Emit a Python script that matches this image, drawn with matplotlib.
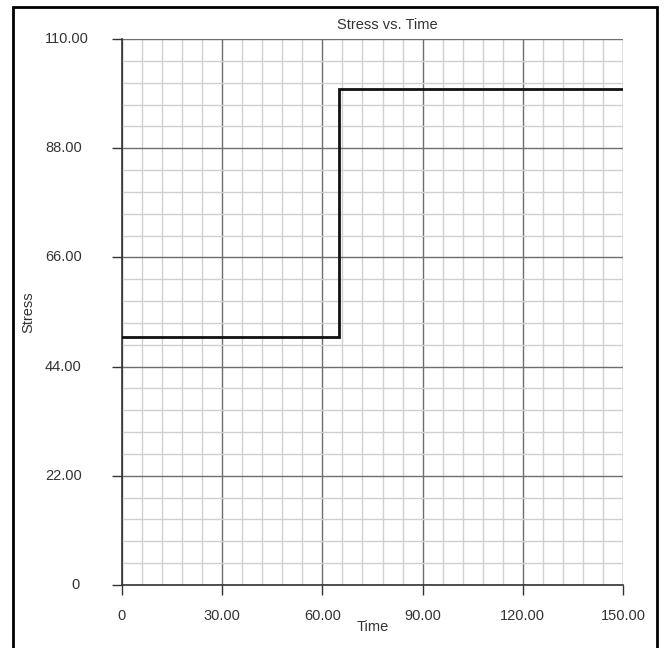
import matplotlib
matplotlib.use("Agg")
import matplotlib.pyplot as plt
from matplotlib.ticker import MultipleLocator, FixedLocator
from matplotlib.patches import Rectangle

plt.rcParams['font.family'] = ['Liberation Sans', 'DejaVu Sans']

time = [0, 65, 65, 150]
stress = [50, 50, 100, 100]
x_ticks = [0, 30, 60, 90, 120, 150]
x_labels = ["0", "30.00", "60.00", "90.00", "120.00", "150.00"]
y_ticks = [0, 22, 44, 66, 88, 110]
y_labels = ["0", "22.00", "44.00", "66.00", "88.00", "110.00"]

W, H = 670, 648
FS = 10.5
TC = '#333333'
fig = plt.figure(figsize=(W/100, H/100), dpi=100)
ax = fig.add_axes([122/W, 1-585/H, (623-122)/W, (585-39)/H])

ax.set_xlim(0, 150)
ax.set_ylim(0, 110)
ax.xaxis.set_major_locator(FixedLocator(x_ticks))
ax.yaxis.set_major_locator(FixedLocator(y_ticks))
ax.xaxis.set_minor_locator(MultipleLocator(6))
ax.yaxis.set_minor_locator(MultipleLocator(4.4))
ax.set_xticklabels(x_labels)
ax.set_yticklabels([])

ax.grid(which='minor', color='#d0d0d0', linewidth=1.0, zorder=0)
ax.grid(which='major', color='#6e6e6e', linewidth=1.0, zorder=0)
ax.set_axisbelow(True)

ax.plot(time, stress, color='#111111', linewidth=2.0, zorder=3, solid_joinstyle='miter')

for s in ['top', 'right']:
    ax.spines[s].set_visible(False)
for s in ['left', 'bottom']:
    ax.spines[s].set_color(TC)
    ax.spines[s].set_linewidth(1.2)

ax.tick_params(which='minor', length=0)
ax.tick_params(which='major', length=7, width=1, color=TC,
               labelsize=FS, labelcolor=TC)
ax.tick_params(axis='x', pad=10)

# y tick labels: left-aligned, "0" label centred further right (as in reference)
ytr = ax.get_yaxis_transform()
for v, lab in zip(y_ticks, y_labels):
    if lab == "0":
        ax.text((75-122)/501, v, lab, transform=ytr, ha='center', va='center',
                fontsize=FS, color=TC, clip_on=False)
    else:
        ax.text((45-122)/501, v, lab, transform=ytr, ha='left', va='center',
                fontsize=FS, color=TC, clip_on=False)

ax.set_title("Stress vs. Time", fontsize=FS, color=TC, pad=7, x=0.53)
ax.set_xlabel("Time", fontsize=FS, color=TC, labelpad=-2)
ax.text((28-122)/501, 0.5, "Stress", transform=ax.transAxes, rotation=90,
        ha='center', va='center', fontsize=FS, color=TC)

fig.add_artist(Rectangle((13/W, -0.05), (657-13)/W, 1-7/H+0.05,
                         transform=fig.transFigure, fill=False,
                         edgecolor='black', linewidth=2))

fig.savefig("out.png", dpi=100)
